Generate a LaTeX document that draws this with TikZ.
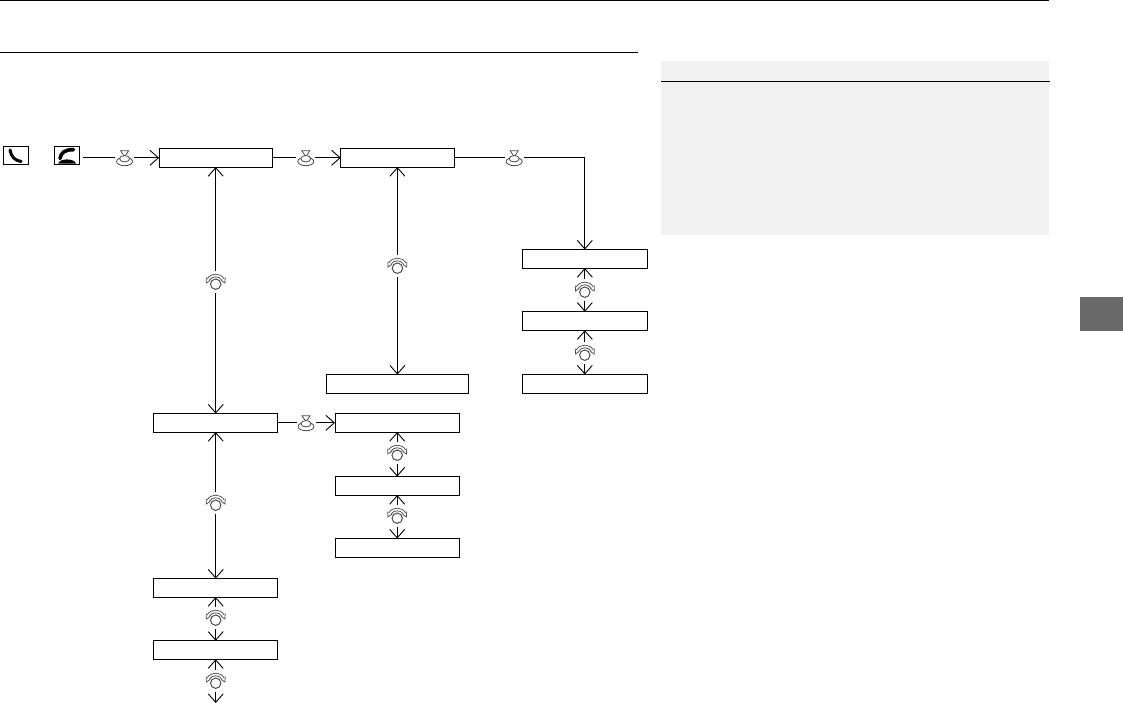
\documentclass[tikz,border=0pt]{standalone}
\usepackage{xcolor}
\usetikzlibrary{positioning,arrows.meta}
\definecolor{panelgrey}{HTML}{F1F1F1}
\definecolor{tabgrey}{HTML}{696969}
\begin{document}
\begin{tikzpicture}[x=1pt,y=-1pt,line width=.9pt,
  menu/.style={draw,line width=.9pt,minimum width=#1,minimum height=18.5pt,inner sep=0pt,outer sep=0pt},
  menu/.default=124.4pt,
  arr/.style={-{Straight Barb[length=8.5pt,width=15pt]}},
  press/.style={minimum width=19pt,minimum height=17pt,inner sep=0pt,outer sep=0pt,path picture={
    \begin{scope}[shift={(path picture bounding box.center)},line width=.8pt,draw=black!70]
      \draw (-4,-7) -- (4,-7) -- (0,-1) -- cycle;
      \draw (0,3.7) ellipse [x radius=8,y radius=4.2];
      \draw[fill=white] (0,.9) ellipse [x radius=5,y radius=3.2];
    \end{scope}}},
  dial/.style={minimum width=21pt,minimum height=22pt,inner sep=0pt,outer sep=0pt,path picture={
    \begin{scope}[shift={(path picture bounding box.center)},line width=.75pt,draw=black!70]
      \draw[line width=1pt] (0,2.2) circle [radius=5.2];
      \draw (-8.5,-3) .. controls (-5,-9.5) and (5,-9.5) .. (8.5,-3);
      \draw (-6.5,-1.5) .. controls (-3.5,-6.5) and (3.5,-6.5) .. (6.5,-1.5);
      \draw (-9.5,-4.5) -- (-9.3,1) -- (-5.5,-1.5);
      \draw (9.5,-4.5) -- (9.3,1) -- (5.5,-1.5);
    \end{scope}}},
  phone/.style={draw,line width=.9pt,minimum width=25.5pt,minimum height=18.5pt,inner sep=0pt,outer sep=0pt}
]
\useasboundingbox (0,0) rectangle (1123,703);
\draw[line width=1pt] (0,.5) -- (1049,.5);
\draw[line width=1pt] (0,52.5) -- (638,52.5);
\node[fill=panelgrey,anchor=north west,minimum width=388pt,minimum height=174pt,inner sep=0pt] (panel) at (661,61) {};
\draw[line width=.8pt] (panel.north west |- 0,81) -- (panel.north east |- 0,81);
\node[fill=tabgrey,anchor=north west,minimum width=43pt,minimum height=34pt,inner sep=0pt] (tab) at (1080,297) {};
\node[phone,path picture={\begin{scope}[shift={(path picture bounding box.center)}]
  \draw[line width=3pt,line cap=round] (-6,-5.5) .. controls (-5,1) and (-1,5.3) .. (5.2,6);
  \end{scope}}] (ph1) at (16,155.5) {};
\node[phone,path picture={\begin{scope}[shift={(path picture bounding box.center)}]
  \draw[line width=3.6pt,line cap=round] (-7,3) .. controls (-6,-3) and (-2,-6) .. (6.5,-5.8);
  \fill (-8.8,8.2) .. controls (-8,2.5) and (7.5,2.5) .. (9.2,8.2) -- cycle;
  \end{scope}}] (ph2) at (67,155.5) {};
\coordinate (g1) at (83,157.8);
\node[menu=113.2pt] (m1) at (215.7,157.8) {};
\node[press,left=25pt of m1] (p1) {};
\node[press,right=24pt of m1] (p2) {};
\node[menu=113.2pt,right=25.5pt of p2] (m2) {};
\node[press,right=50.7pt of m2] (p3) {};
\node[menu=125.4pt] (r1) at (584.8,258.8) {};
\node[dial,below=10.95pt of r1] (d7) {};
\node[menu=125.4pt,below=10.75pt of d7] (r2) {};
\node[dial,below=11.75pt of r2] (d8) {};
\node[menu=125.4pt,below=10.55pt of d8] (r3) {};
\node[dial,below=87.95pt of m2] (d2) {};
\node[menu=141.4pt,below=97.55pt of d2] (c1) {};
\node[dial,below=103.95pt of m1] (d1) {};
\node[menu,below=120.55pt of d1] (n1) {};
\node[press,right=18.6pt of n1] (p4) {};
\node[menu,right=19.5pt of p4] (n2) {};
\node[dial,below=9.95pt of n2] (d9) {};
\node[menu,below=12.55pt of d9] (n3) {};
\node[dial,below=9.95pt of n3] (d10) {};
\node[menu,below=11.55pt of d10] (n4) {};
\node[dial,below=59.95pt of n1] (d4) {};
\node[menu,below=64.55pt of d4] (b1) {};
\node[dial,below=9.95pt of b1] (d5) {};
\node[menu,below=11.75pt of d5] (b2) {};
\node[dial,below=10.75pt of b2] (d6) {};
\coordinate[below=11pt of d6] (e1);
\draw (g1) -- (p1);
\draw[arr] (p1) -- (m1);
\draw (m1) -- (p2); \draw[arr] (p2) -- (m2);
\draw (m2) -- (p3); \draw[arr] (p3) -| (r1);
\draw[arr] (d1) -- (m1); \draw[arr] (d1) -- (n1);
\draw[arr] (d2) -- (m2); \draw[arr] (d2) -- (c1);
\draw[arr] (d7) -- (r1); \draw[arr] (d7) -- (r2);
\draw[arr] (d8) -- (r2); \draw[arr] (d8) -- (r3);
\draw (n1) -- (p4); \draw[arr] (p4) -- (n2);
\draw[arr] (d9) -- (n2); \draw[arr] (d9) -- (n3);
\draw[arr] (d10) -- (n3); \draw[arr] (d10) -- (n4);
\draw[arr] (d4) -- (n1); \draw[arr] (d4) -- (b1);
\draw[arr] (d5) -- (b1); \draw[arr] (d5) -- (b2);
\draw[arr] (d6) -- (b2); \draw[arr] (d6) -- (e1);
\end{tikzpicture}
\end{document}
